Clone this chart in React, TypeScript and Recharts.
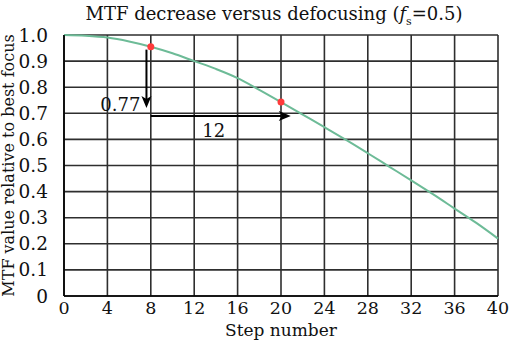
import {
  ComposedChart,
  CartesianGrid,
  Line,
  Scatter,
  XAxis,
  YAxis,
  ReferenceLine,
  ReferenceDot,
  Label
} from "recharts";

const steps = [0, 2, 4, 6, 8, 10, 12, 14, 16, 18, 20, 22, 24, 26, 28, 30, 32, 34, 36, 38, 40];
const mtf = [1.0, 0.997, 0.99, 0.975, 0.955, 0.93, 0.9, 0.87, 0.835, 0.79, 0.743, 0.695, 0.647, 0.598, 0.547, 0.495, 0.443, 0.39, 0.335, 0.28, 0.22];

const markedSteps = [8, 20];
const markedValues = [0.955, 0.743];

const xTicks = [0, 4, 8, 12, 16, 20, 24, 28, 32, 36, 40];
const yTicks = [0, 0.1, 0.2, 0.3, 0.4, 0.5, 0.6, 0.7, 0.8, 0.9, 1.0];

// annotation arrows: drop from the first marked point, then run across 12 steps
const dropArrow = [{ x: 7.6, y: 0.944 }, { x: 7.6, y: 0.72 }];
const runArrow = [{ x: 8, y: 0.69 }, { x: 20.9, y: 0.69 }];
const dropLabel = { x: 7.5, y: 0.735, text: "0.77" };
const runLabel = { x: 13.8, y: 0.635, text: "12" };

const curve = steps.map((s, i) => ({ step: s, mtf: mtf[i] }));
const marks = markedSteps.map((s, i) => ({ step: s, mtf: markedValues[i] }));

const FONT = "DejaVu Serif";

function Arrow(props: any) {
  const { x1, y1, x2, y2 } = props;
  const dx = x2 - x1;
  const dy = y2 - y1;
  const len = Math.sqrt(dx * dx + dy * dy) || 1;
  const ux = dx / len;
  const uy = dy / len;
  const headL = 12;
  const headW = 5;
  const bx = x2 - ux * headL;
  const by = y2 - uy * headL;
  // notch slightly inside the head base
  const nx = bx + ux * 3;
  const ny = by + uy * 3;
  const pts = `${x2},${y2} ${bx - uy * headW},${by + ux * headW} ${nx},${ny} ${bx + uy * headW},${by - ux * headW}`;
  return (
    <g>
      <line x1={x1} y1={y1} x2={nx} y2={ny} stroke="#000" strokeWidth={2} />
      <polygon points={pts} fill="#000" />
    </g>
  );
}

export default function App() {
  return (
    <div style={{ position: "absolute", left: 0, top: 0, width: 509, height: 340, background: "#fff", fontFamily: FONT }}>
      <div
        style={{
          position: "absolute",
          top: 3,
          left: 52,
          width: 444,
          textAlign: "center",
          fontSize: 18,
          color: "#111",
          whiteSpace: "nowrap"
        }}
      >
        MTF decrease versus defocusing (<i>f</i>
        <sub style={{ fontSize: 11 }}>s</sub>=0.5)
      </div>
      <ComposedChart
        width={509}
        height={340}
        data={curve}
        margin={{ top: 35, right: 11, bottom: 0, left: 0 }}
        style={{ fontFamily: FONT }}
      >
        <CartesianGrid stroke="#2e2e2e" strokeWidth={1.6} vertical horizontal />
        <XAxis
          dataKey="step"
          type="number"
          domain={[0, 40]}
          ticks={xTicks}
          interval={0}
          height={44}
          tickLine={false}
          tickMargin={0}
          axisLine={{ stroke: "#000", strokeWidth: 1.6 }}
          tick={{ fill: "#111", fontSize: 17.5, fontFamily: FONT }}
        >
          <Label value="Step number" position="insideBottom" offset={4} style={{ fill: "#111", fontSize: 17, fontFamily: FONT }} />
        </XAxis>
        <YAxis
          type="number"
          domain={[0, 1]}
          ticks={yTicks}
          interval={0}
          width={64}
          tickLine={false}
          tickMargin={10}
          axisLine={{ stroke: "#000", strokeWidth: 1.6 }}
          tickFormatter={(v: number) => (v === 0 ? "0" : v.toFixed(1))}
          tick={{ fill: "#111", fontSize: 18.5, fontFamily: FONT }}
        >
          <Label
            value="MTF value relative to best focus"
            angle={-90}
            position="insideLeft"
            offset={8}
            style={{ textAnchor: "middle", fill: "#111", fontSize: 16, fontFamily: FONT }}
          />
        </YAxis>
        <Line
          type="monotone"
          dataKey="mtf"
          stroke="#6dbb97"
          strokeWidth={2}
          dot={false}
          activeDot={false}
          isAnimationActive={false}
        />
        <Scatter data={marks} dataKey="mtf" fill="#ff3b3b" shape={(p: any) => <circle cx={p.cx} cy={p.cy} r={3.5} fill="#ff3b3b" />} isAnimationActive={false} />
        <ReferenceLine segment={dropArrow} stroke="#000" shape={Arrow} ifOverflow="visible" />
        <ReferenceLine segment={runArrow} stroke="#000" shape={Arrow} ifOverflow="visible" />
        <ReferenceDot
          x={dropLabel.x}
          y={dropLabel.y}
          r={0}
          fill="none"
          stroke="none"
          label={{ value: dropLabel.text, position: "left", fill: "#111", fontSize: 18, fontFamily: FONT }}
        />
        <ReferenceDot
          x={runLabel.x}
          y={runLabel.y}
          r={0}
          fill="none"
          stroke="none"
          label={{ value: runLabel.text, position: "center", fill: "#111", fontSize: 18, fontFamily: FONT }}
        />
      </ComposedChart>
    </div>
  );
}
